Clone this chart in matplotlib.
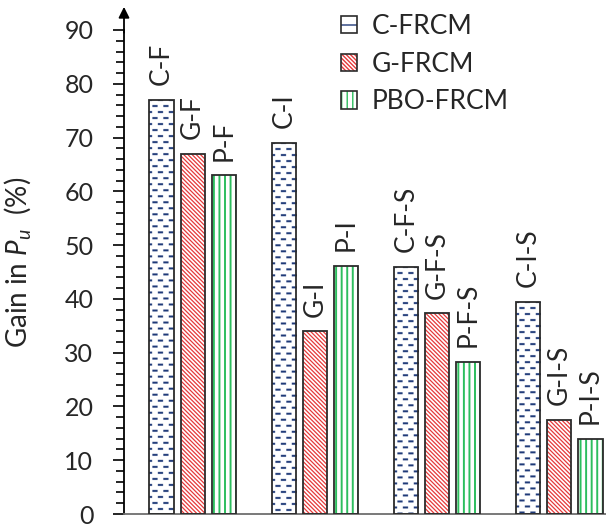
import numpy as np
import matplotlib
import matplotlib.pyplot as plt
from matplotlib.patches import Patch
from matplotlib.legend_handler import HandlerTuple

plt.rcParams['font.family'] = ['Lato', 'DejaVu Sans']
plt.rcParams['mathtext.fontset'] = 'custom'
plt.rcParams['mathtext.it'] = 'Lato:italic'
plt.rcParams['mathtext.rm'] = 'Lato'

# gain in ultimate load (%) per configuration
groups = ['F', 'I', 'F-S', 'I-S']
series = ['C-FRCM', 'G-FRCM', 'PBO-FRCM']
prefix = ['C', 'G', 'P']
c_frcm = [77, 69, 46, 39.5]
g_frcm = [67, 34, 37.3, 17.5]
p_frcm = [63, 46.2, 28.3, 14]
values = [c_frcm, g_frcm, p_frcm]

navy = '#1F3A78'
red = '#E5393A'
green = '#2DBE5E'
outline = '#2B2B2B'

fig = plt.figure(figsize=(6.06, 5.27), dpi=100)
ax = fig.add_axes([124/606, 13/527, 482/606, 484/527])
ax.set_xlim(-0.561, 3.381)
ax.set_ylim(0, 90)

x = np.arange(len(groups))
pitch = 0.254
width = 0.197

# pixel size of one data unit, used for the dash texture
p0 = ax.transData.transform((0, 0))
p1 = ax.transData.transform((1, 1))
px_x = p1[0] - p0[0]
px_y = p1[1] - p0[1]

def dash_texture(w_px, h_px, sub=4):
    H = max(int(round(h_px * sub)), 1)
    W = max(int(round(w_px * sub)), 1)
    yy, xx = np.mgrid[0:H, 0:W] / sub
    row = np.floor(yy / 6.0)
    in_row = (yy % 6.0) < 2.0
    shift = (row % 2) * 5.25 + 2.0
    in_dash = ((xx + shift) % 10.5) < 5.0
    img = np.zeros((H, W, 4))
    img[..., :3] = matplotlib.colors.to_rgb(navy)
    img[..., 3] = (in_row & in_dash).astype(float)
    return img

hatches = [None, '\\' * 8, '|||']
hcolors = [navy, red, green]
hlw = [1.0, 0.9, 1.4]
for i in range(3):
    xs = x + (i - 1) * pitch
    with plt.rc_context({'hatch.linewidth': hlw[i]}):
        if hatches[i] is None:
            bars = ax.bar(xs, values[i], width, color='white', linewidth=0, zorder=2)
            for b in bars:
                img = dash_texture(width * px_x, b.get_height() * px_y)
                im = ax.imshow(img, extent=(b.get_x(), b.get_x() + width, 0, b.get_height()),
                               aspect='auto', interpolation='antialiased', zorder=2.5)
                im.set_clip_path(b)
        else:
            ax.bar(xs, values[i], width, color='white', edgecolor=hcolors[i],
                   hatch=hatches[i], linewidth=0, zorder=2)
    ax.bar(xs, values[i], width, fill=False, edgecolor=outline, linewidth=1.3, zorder=3)
    for j in range(len(groups)):
        ax.annotate(prefix[i] + '-' + groups[j], (xs[j], values[i][j]),
                    xytext=(0, 10.5), textcoords='offset points', rotation=90,
                    ha='center', va='bottom', fontsize=19, color='#262626')

ax.set_aspect('auto')
ax.set_xticks([])
ax.set_yticks(np.arange(0, 91, 10))
ax.set_yticks(np.arange(0, 91, 2), minor=True)
ax.tick_params(axis='y', which='major', direction='out', length=8, width=1.2,
               labelsize=18, pad=14, colors='black', labelcolor='#262626')
ax.tick_params(axis='y', which='minor', direction='out', length=5.5, width=1.2, colors='black')
for s in ['top', 'right']:
    ax.spines[s].set_visible(False)
ax.spines['left'].set_linewidth(1.3)
ax.spines['bottom'].set_color('#6E6E6E')
ax.spines['bottom'].set_linewidth(1.3)

# arrow at the top of the value axis
ax.annotate('', xy=(-0.561, 94.3), xytext=(-0.561, 89.5),
            arrowprops=dict(arrowstyle='-|>', color='black', lw=1.3,
                            mutation_scale=16, shrinkA=0, shrinkB=0),
            annotation_clip=False)

ax.set_ylabel('Gain in $P_u$  (%)', fontsize=20, color='#262626')
ax.yaxis.set_label_coords(-0.189, 0.52)

handles = []
for i in range(3):
    h = Patch(facecolor='white', edgecolor=hcolors[i], hatch=['-', '\\' * 8, '|||'][i], linewidth=0)
    o = Patch(fill=False, edgecolor=outline, linewidth=1.2)
    handles.append((h, o))
ax.legend(handles, series, handler_map={tuple: HandlerTuple(ndivide=1, pad=0)},
          loc='upper left', bbox_to_anchor=(341/606, 1 - 14/527), bbox_transform=fig.transFigure,
          frameon=False, fontsize=19, borderpad=0, borderaxespad=0,
          handlelength=0.62, handleheight=0.62, handletextpad=0.55, labelspacing=0.48,
          labelcolor='#262626')

fig.savefig('out.png', dpi=100)
